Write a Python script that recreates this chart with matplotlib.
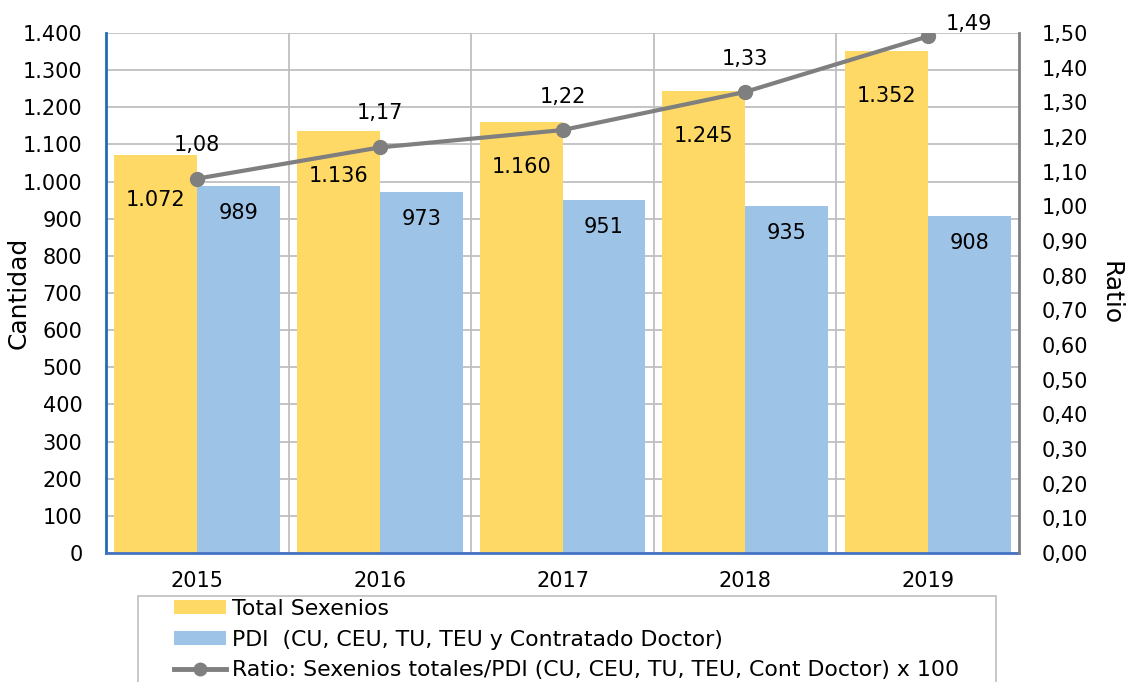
import matplotlib
matplotlib.use("Agg")
import matplotlib.pyplot as plt
from matplotlib.patches import Rectangle, Patch
from matplotlib.lines import Line2D
import numpy as np

years = ["2015", "2016", "2017", "2018", "2019"]
total_sexenios = [1072, 1136, 1160, 1245, 1352]
pdi = [989, 973, 951, 935, 908]
ratio = [1.08, 1.17, 1.22, 1.33, 1.49]

label_total = "Total Sexenios"
label_pdi = "PDI  (CU, CEU, TU, TEU y Contratado Doctor)"
label_ratio = "Ratio: Sexenios totales/PDI (CU, CEU, TU, TEU, Cont Doctor) x 100"

YELLOW = "#FFD966"
BLUE = "#9DC3E6"
GRAY = "#7F7F7F"
GRID = "#BFBFBF"

plt.rcParams['font.family'] = ['DejaVu Sans']
FS = 15

fig = plt.figure(figsize=(11.29, 6.82), dpi=100)
ax = fig.add_axes([106/1129, 1-553/682, (1019-106)/1129, (553-33)/682])
ax2 = ax.twinx()

x = np.arange(len(years))
w = 0.4536
ax.bar(x, total_sexenios, width=-w, align='edge', color=YELLOW, zorder=2)
ax.bar(x, pdi, width=w, align='edge', color=BLUE, zorder=2)


def fmt_int(v):
    return f"{v:,}".replace(",", ".")


for xi, v in zip(x, total_sexenios):
    ax.annotate(fmt_int(v), (xi - w/2, v), xytext=(0, -32.5), textcoords='offset points',
                ha='center', va='center', fontsize=FS, color='black', zorder=5)
for xi, v in zip(x, pdi):
    ax.annotate(fmt_int(v), (xi + w/2, v), xytext=(0, -19.5), textcoords='offset points',
                ha='center', va='center', fontsize=FS, color='black', zorder=5)

ax.set_xlim(-0.5, len(years) - 0.5)
ax.set_ylim(0, 1400)
yt = np.arange(0, 1401, 100)
ax.set_yticks(yt)
ax.set_yticklabels([fmt_int(int(v)) for v in yt])
ax.set_xticks(x)
ax.set_xticklabels(years)
ax.yaxis.grid(True, color=GRID, linewidth=1.3, zorder=0)
for b in np.arange(0.5, len(years) - 0.5, 1.0):
    ax.axvline(b, color=GRID, linewidth=1.3, zorder=0)
ax.set_axisbelow(True)

ax.tick_params(axis='y', length=0, pad=17, labelsize=FS)
ax.tick_params(axis='x', length=0, pad=13, labelsize=FS)
ax.spines['left'].set_color('#1F6FB0')
ax.spines['left'].set_linewidth(2)
ax.spines['bottom'].set_color('#4472C4')
ax.spines['bottom'].set_linewidth(2)
ax.spines['top'].set_visible(False)
ax.spines['right'].set_visible(False)

ax2.plot(x, ratio, color=GRAY, linewidth=3, marker='o', markersize=10, zorder=4)
ax2.set_ylim(0, 1.5)
ticks2 = np.round(np.arange(0, 1.501, 0.1), 2)
ax2.set_yticks(ticks2)
ax2.set_yticklabels([f"{t:.2f}".replace(".", ",") for t in ticks2])
ax2.tick_params(axis='y', length=0, pad=16, labelsize=FS)
ax2.spines['right'].set_color(GRAY)
ax2.spines['right'].set_linewidth(2)
for s in ['left', 'bottom', 'top']:
    ax2.spines[s].set_visible(False)

offsets = [(0, 24), (0, 25), (0, 24), (0, 24), (30, 9)]
for xi, v, off in zip(x, ratio, offsets):
    ax2.annotate(f"{v:.2f}".replace(".", ","), (xi, v), xytext=off, textcoords='offset points',
                 ha='center', va='center', fontsize=FS, color='black', zorder=6)

ax.set_ylabel("Cantidad", fontsize=18)
ax.yaxis.set_label_coords((31-106)/913, 0.5)
ax2.set_ylabel("Ratio", fontsize=18, rotation=270, va='center')
ax2.yaxis.set_label_coords((1110-106)/913, 0.5)

# legend frame
fig.patches.append(Rectangle((138/1129, -0.05), (996-138)/1129, 1-596/682+0.05,
                             transform=fig.transFigure, facecolor='white',
                             edgecolor=GRID, linewidth=1.2, zorder=0))

# legend font size so that the longest entry is ~728 px wide
renderer = fig.canvas.get_renderer()
probe = fig.text(0, 0, label_ratio, fontsize=15)
wpx = probe.get_window_extent(renderer).width
probe.remove()
lfs = min(16.0, 15 * 728.0 / wpx)
lfs_px = lfs * 100 / 72.0

handles = [Patch(facecolor=YELLOW), Patch(facecolor=BLUE),
           Line2D([0], [0], color=GRAY, linewidth=3.5, marker='o', markersize=9)]


def make_legend(spacing, top):
    return fig.legend(handles, [label_total, label_pdi, label_ratio], loc='upper left',
                      bbox_to_anchor=(174/1129, 1-top/682), frameon=False,
                      prop={'size': lfs},
                      handlelength=52/lfs_px, handleheight=13/lfs_px,
                      handletextpad=6/lfs_px, labelspacing=spacing,
                      borderpad=0, borderaxespad=0)


sp, top = 0.5, 598
leg = make_legend(sp, top)
fig.canvas.draw()
ext = [t.get_window_extent(renderer) for t in leg.get_texts()]
delta = ext[0].y0 - ext[1].y0
c0 = 682 - (ext[0].y0 + ext[0].y1) / 2
leg.remove()
sp = sp + (30.5 - delta) / lfs_px
top = top + (609 - c0)
leg = make_legend(sp, top)

fig.savefig("out.png", dpi=100)
